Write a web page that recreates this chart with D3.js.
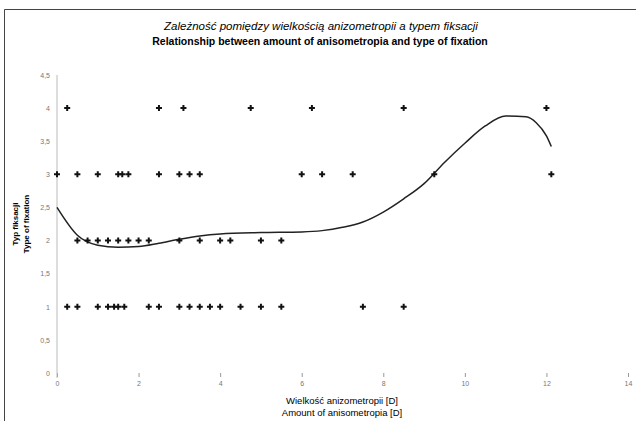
<!DOCTYPE html>
<html>
<head>
<meta charset="utf-8">
<script src="https://cdn.jsdelivr.net/npm/d3@7"></script>
<style>
  body { margin: 0; background: #fff; }
  svg { display: block; font-family: "Liberation Sans", Arial, sans-serif; }
  .tick text { fill: #777; font-size: 7px; }
  .y-axis .domain { stroke: #bbb; }
  .tick line { stroke: #999; }
</style>
</head>
<body>
<div id="chart"></div>
<script>
// fixation type 1..4 against amount of anisometropia [D]
var type4 = [0.25, 2.5, 3.1, 4.75, 6.25, 8.5, 12];
var type3 = [0, 0.5, 1, 1.5, 1.6, 1.75, 2.5, 3, 3.25, 3.5, 6, 6.5, 7.25, 9.25, 12.12];
var type2 = [0.5, 0.75, 1, 1.25, 1.5, 1.75, 2, 2.25, 3, 3.5, 4, 4.25, 5, 5.5];
var type1 = [0.25, 0.5, 1, 1.25, 1.4, 1.5, 1.65, 2.25, 2.5, 3, 3.25, 3.5, 3.75, 4, 4.5, 5, 5.5, 7.5, 8.5];

// trend line
var trendX = [0, 0.5, 1, 1.5, 2, 2.5, 3, 3.5, 4, 5, 6, 6.5, 7, 7.5, 8, 8.5, 9, 9.5, 10, 10.5, 11, 11.5, 11.75, 12, 12.12];
var trendY = [2.5, 2.08, 1.93, 1.9, 1.91, 1.96, 2.02, 2.07, 2.1, 2.12, 2.13, 2.15, 2.2, 2.28, 2.43, 2.63, 2.86, 3.18, 3.47, 3.73, 3.88, 3.87, 3.78, 3.58, 3.42];

var xTicks = [0, 2, 4, 6, 8, 10, 12, 14];
var yTicks = [0, 0.5, 1, 1.5, 2, 2.5, 3, 3.5, 4, 4.5];

var titlePl = "Zależność pomiędzy wielkością anizometropii a typem fiksacji";
var titleEn = "Relationship between amount of anisometropia and type of fixation";
var xLabelPl = "Wielkość anizometropii [D]";
var xLabelEn = "Amount of anisometropia [D]";
var yLabelPl = "Typ fiksacji";
var yLabelEn = "Type of fixation";

var width = 636, height = 421;

var svg = d3.select("#chart").append("svg")
  .attr("width", width)
  .attr("height", height);

// frame
svg.append("path")
  .attr("d", "M4.5," + height + "V9.5H" + width)
  .attr("fill", "none")
  .attr("stroke", "#444")
  .attr("stroke-width", 1);

var x = d3.scaleLinear().domain([0, 14]).range([57, 628]);
var y = d3.scaleLinear().domain([0, 4.5]).range([373, 75]);

var fmt = function(d) { return String(d).replace(".", ","); };

var xAxis = svg.append("g")
  .attr("class", "x-axis")
  .attr("transform", "translate(0," + y(0) + ")")
  .call(d3.axisBottom(x).tickValues(xTicks).tickSize(4).tickPadding(4).tickFormat(fmt));
xAxis.select(".domain").remove();

var yAxis = svg.append("g")
  .attr("class", "y-axis")
  .attr("transform", "translate(" + x(0) + ",0)")
  .call(d3.axisLeft(y).tickValues(yTicks).tickSize(0).tickPadding(7).tickFormat(fmt));
yAxis.select(".domain").attr("d", "M0," + y(4.5) + "V" + (y(0) + 5));

// titles
svg.append("text")
  .attr("x", 321).attr("y", 30)
  .attr("text-anchor", "middle")
  .attr("font-size", 11.5)
  .attr("font-style", "italic")
  .text(titlePl);
svg.append("text")
  .attr("x", 320).attr("y", 45)
  .attr("text-anchor", "middle")
  .attr("font-size", 10.5)
  .attr("font-weight", "bold")
  .text(titleEn);

svg.append("text")
  .attr("x", 342).attr("y", 404)
  .attr("text-anchor", "middle")
  .attr("font-size", 9.5)
  .text(xLabelPl);
svg.append("text")
  .attr("x", 342).attr("y", 416)
  .attr("text-anchor", "middle")
  .attr("font-size", 9.5)
  .text(xLabelEn);

svg.append("g")
  .attr("transform", "translate(18," + y(2.25) + ") rotate(-90)")
  .selectAll("text")
  .data([yLabelPl, yLabelEn])
  .enter().append("text")
  .attr("y", function(d, i) { return i * 11; })
  .attr("text-anchor", "middle")
  .attr("font-size", 8)
  .attr("font-weight", "bold")
  .text(function(d) { return d; });

// trend line
var trend = trendX.map(function(d, i) { return { x: d, y: trendY[i] }; });
var line = d3.line()
  .curve(d3.curveMonotoneX)
  .x(function(d) { return x(d.x); })
  .y(function(d) { return y(d.y); });

svg.append("path")
  .datum(trend)
  .attr("d", line)
  .attr("fill", "none")
  .attr("stroke", "#222")
  .attr("stroke-width", 1.5);

// points
var points = [];
[type1, type2, type3, type4].forEach(function(arr, i) {
  arr.forEach(function(v) { points.push({ x: v, y: i + 1 }); });
});

svg.append("g")
  .selectAll("path")
  .data(points)
  .enter().append("path")
  .attr("transform", function(d) { return "translate(" + x(d.x) + "," + y(d.y) + ")"; })
  .attr("d", d3.symbol().type(d3.symbolCross).size(20))
  .attr("fill", "#111");
</script>
</body>
</html>
